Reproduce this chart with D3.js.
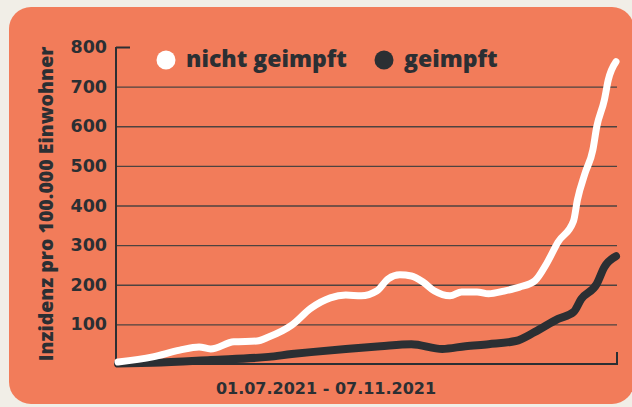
<!DOCTYPE html>
<html>
<head>
<meta charset="utf-8">
<script src="https://cdn.jsdelivr.net/npm/d3@7"></script>
<style>
  body { margin: 0; background: #f1eee7; }
  svg { display: block; }
</style>
</head>
<body>
<div id="plot"></div>
<script>
// Inzidenz 01.07.2021 - 07.11.2021, Tage ab 01.07.
const ungeimpftTage = [0, 9, 16, 21, 24, 30, 36, 39, 45, 50, 55, 59, 63, 67, 70, 73, 76, 79, 82, 86, 89, 93, 96, 100, 104, 108, 111, 114, 118, 119, 121, 123, 124, 126, 127, 129];
const ungeimpft = [5, 18, 35, 43, 38, 56, 58, 68, 98, 141, 167, 174, 172, 184, 215, 225, 222, 207, 184, 172, 182, 182, 177, 184, 194, 210, 253, 308, 361, 414, 482, 540, 598, 667, 717, 763];

const geimpftTage = [0, 9, 24, 39, 45, 50, 59, 68, 76, 84, 90, 96, 103, 108, 114, 118, 120, 124, 126, 129];
const geimpft = [1, 3, 10, 18, 25, 30, 38, 45, 50, 38, 45, 50, 58, 81, 114, 131, 164, 202, 245, 272];

const yTicks = [100, 200, 300, 400, 500, 600, 700, 800];
const legende = ["nicht geimpft", "geimpft"];
const xLabel = "01.07.2021 - 07.11.2021";
const yLabel = "Inzidenz pro 100.000 Einwohner";

const w = 632;
const h = 407;
const margin = {top: 47, right: 15, bottom: 43, left: 116};
const dark = "#2b2f33";

const svg = d3.select("div#plot")
    .append("svg")
    .attr("width", w)
    .attr("height", h);

// Karte
svg.append("rect")
    .attr("x", 9)
    .attr("y", 7)
    .attr("width", 625)
    .attr("height", 397)
    .attr("rx", 22)
    .attr("fill", "#f27c5a");

const xScale = d3.scaleLinear()
    .domain([0, 129])
    .range([margin.left + 2, w - margin.right - 1]);

const yScale = d3.scaleLinear()
    .domain([0, 800])
    .range([h - margin.bottom, margin.top]);

const gridW = w - margin.right - margin.left;

const yAxis = d3.axisLeft(yScale)
    .tickValues(yTicks)
    .tickSize(-gridW)
    .tickPadding(9);

const yg = svg.append("g")
    .attr("transform", `translate(${margin.left}, 0)`)
    .call(yAxis);

yg.select(".domain").remove();
yg.selectAll(".tick line")
    .attr("stroke", "#4d4340")
    .attr("stroke-width", 1.3)
    .attr("x2", d => d == 800 ? 14 : gridW);
yg.selectAll(".tick line").filter(d => d == 800)
    .attr("stroke", dark)
    .attr("stroke-width", 2);
yg.selectAll(".tick text")
    .attr("fill", dark)
    .style("font-family", "'DejaVu Sans'")
    .style("font-weight", "bold")
    .style("font-size", "17.5px");

// Achsen
svg.append("path")
    .attr("d", `M${margin.left},${margin.top} V${h - margin.bottom} H${w - margin.right} V${h - margin.bottom - 12}`)
    .attr("fill", "none")
    .attr("stroke", dark)
    .attr("stroke-width", 2);

// Linien
const line = d3.line()
    .x(d => xScale(d[0]))
    .y(d => yScale(d[1]))
    .curve(d3.curveMonotoneX);

svg.append("path")
    .datum(d3.zip(geimpftTage, geimpft))
    .attr("d", line)
    .attr("fill", "none")
    .attr("stroke", dark)
    .attr("stroke-width", 8)
    .attr("stroke-linecap", "round")
    .attr("stroke-linejoin", "round");

svg.append("path")
    .datum(d3.zip(ungeimpftTage, ungeimpft))
    .attr("d", line)
    .attr("fill", "none")
    .attr("stroke", "white")
    .attr("stroke-width", 7)
    .attr("stroke-linecap", "round")
    .attr("stroke-linejoin", "round");

// Legende
const legX = [166, 384];
const legColor = ["white", dark];
legende.forEach((name, i) => {
  svg.append("circle")
      .attr("cx", legX[i])
      .attr("cy", 60)
      .attr("r", 9.5)
      .attr("fill", legColor[i]);
  svg.append("text")
      .attr("x", legX[i] + 20)
      .attr("y", 67)
      .attr("fill", dark)
      .style("font-family", "'Open Sans'")
      .style("font-weight", "800")
      .style("font-size", "23px")
      .text(name);
});

// Beschriftungen
svg.append("text")
    .attr("x", 326)
    .attr("y", 394)
    .attr("text-anchor", "middle")
    .attr("fill", dark)
    .style("font-family", "'DejaVu Sans'")
    .style("font-weight", "bold")
    .style("font-size", "16px")
    .text(xLabel);

svg.append("text")
    .attr("transform", "translate(53, 204) rotate(-90)")
    .attr("text-anchor", "middle")
    .attr("fill", dark)
    .style("font-family", "'Open Sans'")
    .style("font-weight", "800")
    .style("font-size", "19.5px")
    .text(yLabel);
</script>
</body>
</html>
